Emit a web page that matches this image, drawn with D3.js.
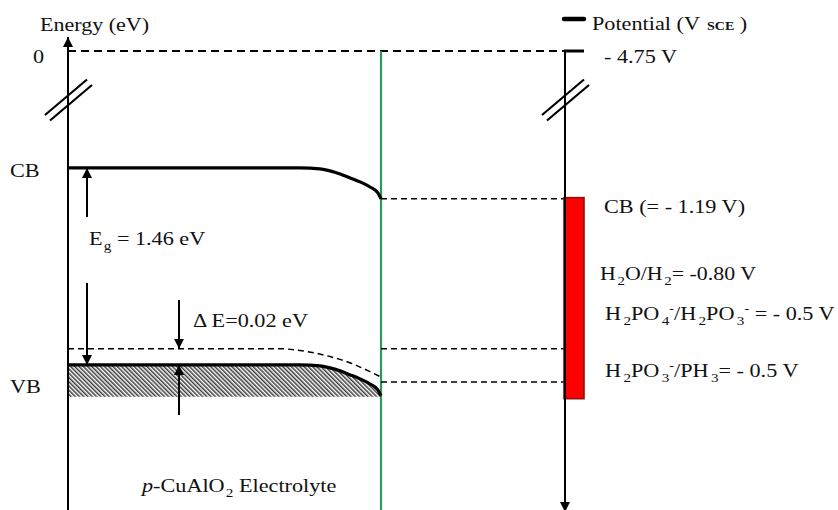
<!DOCTYPE html>
<html>
<head>
<meta charset="utf-8">
<script src="https://cdn.jsdelivr.net/npm/d3@7"></script>
<style>
  html, body { margin: 0; padding: 0; background: #fff; }
  svg { display: block; font-family: "Liberation Serif", "Times New Roman", serif; }
  text { white-space: pre; }
</style>
</head>
<body>
<svg id="chart" width="838" height="510"></svg>
<script>
// ---- Energy levels of p-CuAlO2 (eV, vacuum level = 0) ----
const vacuumLevel = 0;
const bandGap = 1.46;
const cbBulk = -3.34;
const vbBulk = cbBulk - bandGap;
const fermiBulk = -4.68;
const deltaE = 0.02;
const lowerLevel = -4.926;

// Downward band bending towards the electrolyte interface
// (depth: 0 = bulk side of the axis, 1 = interface)
const bendDepth  = [0, 0.74, 0.805, 0.855, 0.90, 0.935, 0.965, 0.99, 1.0];
const bendAmount = [0, 0, 0.007, 0.033, 0.072, 0.105, 0.141, 0.185, 0.228];
const fermiDepth = [0, 0.677, 0.741, 0.837, 0.901, 0.965, 1.0];
const fermiBend  = [0, 0, 0.013, 0.058, 0.104, 0.17, 0.21];

// ---- Potentials vs SCE ----
const scaleOffset = 4.75;          // V_SCE = -E - 4.75
const potentialTop = -4.75;
const cbPotential = -1.19;
const barBottomPotential = 0.30;
const redoxPotentials = [-0.80, -0.5, -0.5];

const svg = d3.select("#chart");
const W = 838, H = 510;
const SX = 1.17;  // horizontal stretch of the lettering

// Scales (with an axis break between 0 and -3 eV)
const yE = d3.scaleLinear().domain([0, -3.0, -6.5]).range([51, 122.1, 594.3]);
const yV = d3.scaleLinear()
  .domain([-vacuumLevel - scaleOffset, 3.0 - scaleOffset, 6.5 - scaleOffset])
  .range(yE.range());
const xD = d3.scaleLinear().domain([0, 1]).range([68, 381]);
const axisX = xD(0), interfaceX = xD(1), rightAxisX = 565;

// ---- defs: arrowheads and hatch ----
const defs = svg.append("defs");
function marker(id, len, wid) {
  defs.append("marker").attr("id", id)
    .attr("viewBox", "0 0 10 10").attr("refX", 10).attr("refY", 5)
    .attr("markerUnits", "userSpaceOnUse")
    .attr("markerWidth", len).attr("markerHeight", wid)
    .attr("orient", "auto")
    .append("path").attr("d", "M0,0 L10,5 L0,10 Z").attr("fill", "#000");
}
marker("arrowAxis", 10, 10);
marker("arrowSmall", 10, 11);

const pat = defs.append("pattern").attr("id", "hatch")
  .attr("patternUnits", "userSpaceOnUse").attr("width", 3).attr("height", 10)
  .attr("patternTransform", "rotate(-45)");
pat.append("line").attr("x1", 0.8).attr("y1", 0).attr("x2", 0.8).attr("y2", 10)
  .attr("stroke", "#1a1a1a").attr("stroke-width", 1.3);

// ---- rich text helper ----
function richText(x, y, parts, size = 19, sx = SX) {
  const g = svg.append("g").attr("transform", `translate(${x},${y}) scale(${sx},1)`);
  const t = g.append("text").attr("font-size", size).attr("fill", "#111");
  let cur = 0;
  parts.forEach(p => {
    const o = typeof p === "string" ? { t: p } : p;
    const shift = o.sub ? 5 : o.sup ? -7 : 0;
    const ts = t.append("tspan").attr("dy", shift - cur).text(o.t);
    cur = shift;
    if (o.sub || o.sup) ts.attr("font-size", o.size || 13);
    if (o.size) ts.attr("font-size", o.size);
    if (o.dx) ts.attr("dx", o.dx);
    if (o.bold) ts.attr("font-weight", "bold");
    if (o.italic) ts.attr("font-style", "italic");
  });
  return g;
}
const fmtNeg = (v, d) => (v < 0 ? "- " : "") + Math.abs(v).toFixed(d) + " V";

// ---- vacuum level dashed line ----
svg.append("line")
  .attr("x1", axisX).attr("x2", rightAxisX)
  .attr("y1", yE(vacuumLevel)).attr("y2", yE(vacuumLevel))
  .attr("stroke", "#000").attr("stroke-width", 2).attr("stroke-dasharray", "8,5");

// ---- interface (green) ----
svg.append("line")
  .attr("x1", interfaceX).attr("x2", interfaceX)
  .attr("y1", yE(vacuumLevel)).attr("y2", H)
  .attr("stroke", "#2a9a58").attr("stroke-width", 2.2);

// ---- band profiles ----
const pts = bendDepth.map((d, i) => ({ d, b: bendAmount[i] }));
const maxBend = d3.max(bendAmount);

const hatchArea = d3.area()
  .x(p => xD(p.d))
  .y0(yE(vbBulk - maxBend) + 1)
  .y1(p => yE(vbBulk - p.b))
  .curve(d3.curveMonotoneX);
svg.append("path").datum(pts).attr("d", hatchArea).attr("fill", "url(#hatch)");

const bandLine = level => d3.line()
  .x(p => xD(p.d)).y(p => yE(level - p.b)).curve(d3.curveMonotoneX);

svg.append("path").datum(pts).attr("d", bandLine(cbBulk))
  .attr("fill", "none").attr("stroke", "#000").attr("stroke-width", 3.2);
svg.append("path").datum(pts).attr("d", bandLine(vbBulk))
  .attr("fill", "none").attr("stroke", "#000").attr("stroke-width", 3.2);

const fPts = fermiDepth.map((d, i) => ({ d, b: fermiBend[i] }));
svg.append("path").datum(fPts).attr("d", bandLine(fermiBulk))
  .attr("fill", "none").attr("stroke", "#000").attr("stroke-width", 1.5)
  .attr("stroke-dasharray", "6,4");

// ---- dashed levels carried over to the potential axis ----
const carried = [cbBulk - maxBend, fermiBulk, lowerLevel];
svg.selectAll("line.carry").data(carried).enter().append("line")
  .attr("class", "carry")
  .attr("x1", interfaceX).attr("x2", rightAxisX)
  .attr("y1", d => yE(d)).attr("y2", d => yE(d))
  .attr("stroke", "#000").attr("stroke-width", 1.5).attr("stroke-dasharray", "6,4");

// ---- red potential bar ----
svg.append("rect")
  .attr("x", rightAxisX - 1).attr("width", 20)
  .attr("y", yV(cbPotential)).attr("height", yV(barBottomPotential) - yV(cbPotential))
  .attr("fill", "#ff0000").attr("stroke", "#8e1111").attr("stroke-width", 1.6);

// ---- axes ----
svg.append("line").attr("x1", axisX).attr("x2", axisX).attr("y1", H).attr("y2", 37)
  .attr("stroke", "#000").attr("stroke-width", 2).attr("marker-end", "url(#arrowAxis)");
svg.append("line").attr("x1", rightAxisX).attr("x2", rightAxisX)
  .attr("y1", yV(potentialTop)).attr("y2", 512)
  .attr("stroke", "#000").attr("stroke-width", 2).attr("marker-end", "url(#arrowAxis)");
svg.append("line").attr("x1", rightAxisX - 1).attr("x2", rightAxisX + 19)
  .attr("y1", yV(potentialTop)).attr("y2", yV(potentialTop))
  .attr("stroke", "#000").attr("stroke-width", 3);

// axis breaks
[axisX, rightAxisX].forEach(cx => {
  [0, 1].forEach(k => {
    svg.append("line")
      .attr("x1", cx - 23 + 5 * k).attr("y1", 115 + 5.5 * k)
      .attr("x2", cx + 19 + 5 * k).attr("y2", 79.5 + 5.5 * k)
      .attr("stroke", "#000").attr("stroke-width", 2.2);
  });
});

// legend mark
svg.append("line").attr("x1", 564).attr("x2", 584).attr("y1", 19).attr("y2", 19)
  .attr("stroke", "#000").attr("stroke-width", 4.5).attr("stroke-linecap", "round");

// ---- arrows (Eg and ΔE) ----
function arrow(x, yFrom, yTo) {
  svg.append("line").attr("x1", x).attr("x2", x).attr("y1", yFrom).attr("y2", yTo)
    .attr("stroke", "#000").attr("stroke-width", 2).attr("marker-end", "url(#arrowSmall)");
}
arrow(87, 217, yE(cbBulk));
arrow(87, 283, yE(vbBulk));
arrow(179, 300, yE(fermiBulk));
arrow(179, 415, yE(vbBulk));

// ---- text ----
richText(40, 31, ["Energy (eV)"], 19.5, 1.13);
richText(33, 63, [String(vacuumLevel)]);
richText(10, 177, ["CB"]);
richText(10, 393, ["VB"]);
richText(89, 245, ["E", { t: "g", sub: true, dx: 1 }, " = " + bandGap.toFixed(2) + " eV"]);
richText(193, 327, ["\u0394 E=" + deltaE.toFixed(2) + " eV"]);
richText(142, 492, [{ t: "p", italic: true }, "-CuAlO", { t: "2", sub: true, dx: 1 }, " Electrolyte"]);

richText(592, 30, ["Potential (V", { t: "SCE", size: 12, bold: true, dx: 6 }, " )"]);
richText(604, 63, [fmtNeg(potentialTop, 2)]);
richText(604, 213, ["CB (= " + fmtNeg(cbPotential, 2) + ")"]);

richText(600, 280, ["H", { t: "2", sub: true, dx: 1.5 }, "O/H", { t: "2", sub: true, dx: 1.5 },
  "= -" + Math.abs(redoxPotentials[0]).toFixed(2) + " V"], 19, 1.15);
richText(605, 320, ["H", { t: "2", sub: true, dx: 2 }, "PO", { t: "4", sub: true, dx: 2 },
  { t: "-", sup: true, size: 12 }, "/H", { t: "2", sub: true, dx: 2 }, "PO", { t: "3", sub: true, dx: 2 },
  { t: "-", sup: true, size: 12 }, " = " + fmtNeg(redoxPotentials[1], 1)]);
richText(605, 377, ["H", { t: "2", sub: true, dx: 2 }, "PO", { t: "3", sub: true, dx: 2 },
  { t: "-", sup: true, size: 12 }, "/PH", { t: "3", sub: true, dx: 2 },
  "= " + fmtNeg(redoxPotentials[2], 1)]);
</script>
</body>
</html>
